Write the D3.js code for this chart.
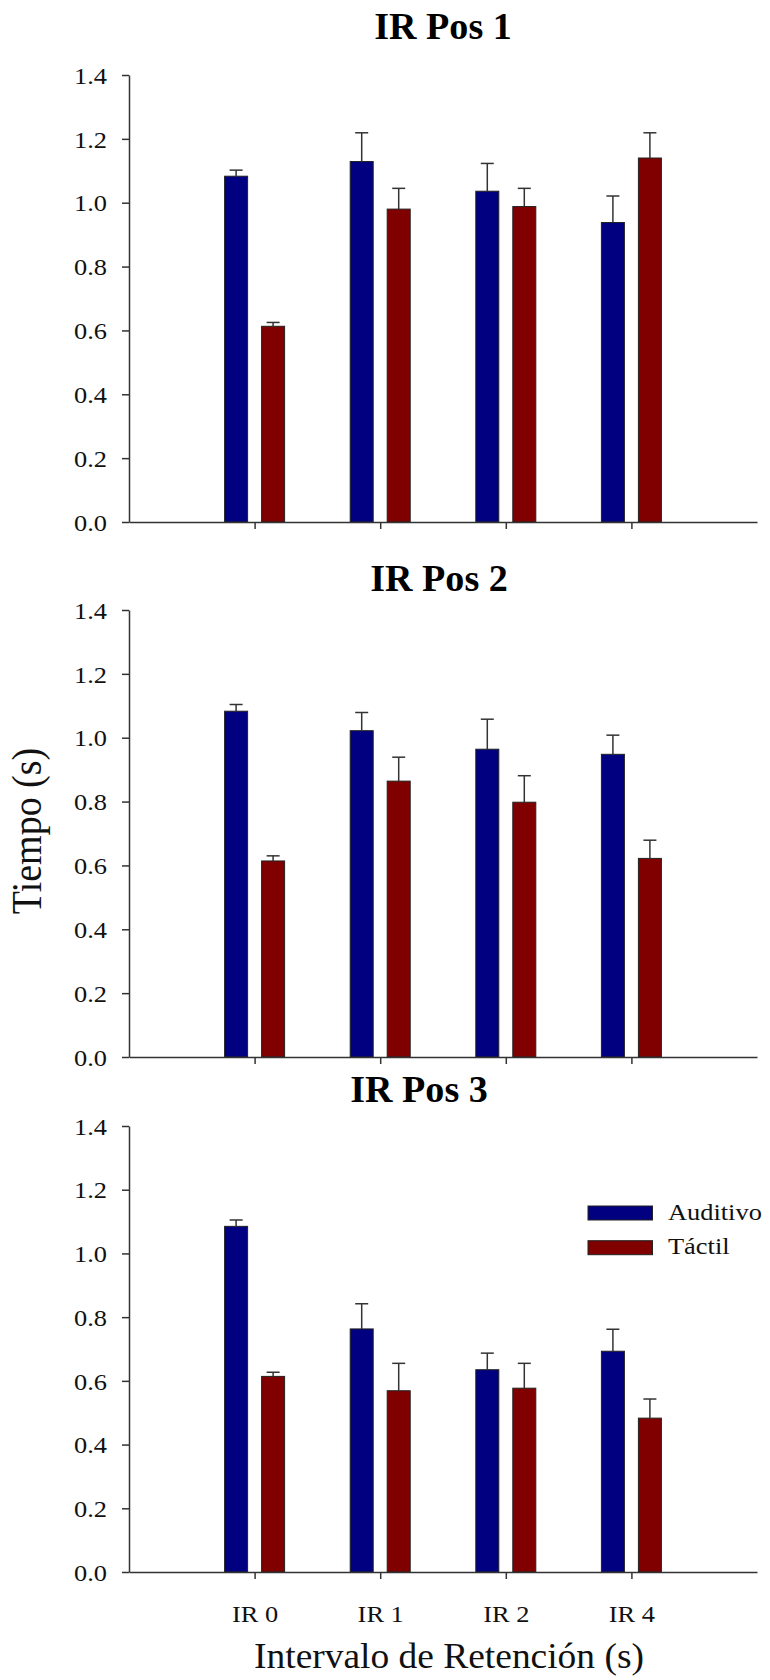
<!DOCTYPE html>
<html>
<head>
<meta charset="utf-8">
<script src="https://cdn.jsdelivr.net/npm/d3@7"></script>
<style>
  body { margin: 0; background: #fff; }
  svg { display: block; }
  svg text { font-family: "Liberation Serif", "Times New Roman", serif; }
</style>
</head>
<body>
<div id="chart"></div>
<script>
// categories and series
const categories = ["IR 0", "IR 1", "IR 2", "IR 4"];
const seriesNames = ["Auditivo", "Táctil"];
const colors = ["#000080", "#800000"];
const yTicks = [0, 0.2, 0.4, 0.6, 0.8, 1.0, 1.2, 1.4];
const titles = ["IR Pos 1", "IR Pos 2", "IR Pos 3"];

// means and standard errors
const pos1Auditivo = [1.083, 1.129, 1.036, 0.938];
const pos1AuditivoErr = [0.019, 0.090, 0.087, 0.083];
const pos1Tactil = [0.613, 0.980, 0.988, 1.140];
const pos1TactilErr = [0.012, 0.065, 0.057, 0.079];

const pos2Auditivo = [1.083, 1.022, 0.964, 0.948];
const pos2AuditivoErr = [0.021, 0.057, 0.094, 0.060];
const pos2Tactil = [0.614, 0.864, 0.798, 0.622];
const pos2TactilErr = [0.016, 0.075, 0.083, 0.057];

const pos3Auditivo = [1.085, 0.763, 0.635, 0.693];
const pos3AuditivoErr = [0.020, 0.079, 0.052, 0.069];
const pos3Tactil = [0.614, 0.569, 0.577, 0.483];
const pos3TactilErr = [0.013, 0.086, 0.078, 0.060];

const panels = [
  { title: titles[0], top: 75, bottom: 522, titleX: 443, titleY: 39,
    means: [pos1Auditivo, pos1Tactil], errs: [pos1AuditivoErr, pos1TactilErr] },
  { title: titles[1], top: 610, bottom: 1057, titleX: 439, titleY: 591,
    means: [pos2Auditivo, pos2Tactil], errs: [pos2AuditivoErr, pos2TactilErr] },
  { title: titles[2], top: 1126, bottom: 1572, titleX: 419, titleY: 1102,
    means: [pos3Auditivo, pos3Tactil], errs: [pos3AuditivoErr, pos3TactilErr] }
];

const W = 770, H = 1680;
const left = 129, right = 757;
const axisColor = "#333";
const stretch = 1.1; // the picture's text is slightly wide

const svg = d3.select("#chart").append("svg")
  .attr("width", W).attr("height", H);

// categories sit at 1..4 on a 0..5 axis
const x = d3.scaleLinear().domain([0, categories.length + 1]).range([left, right]);
const barOffset = [[-30, -7], [7, 30]];

panels.forEach((p, pi) => {
  const y = d3.scaleLinear().domain([0, 1.4]).range([p.bottom, p.top]);
  const g = svg.append("g");

  // title
  g.append("text")
    .attr("transform", `translate(${p.titleX},${p.titleY}) scale(1.03,1)`)
    .attr("text-anchor", "middle")
    .attr("font-size", 37).attr("font-weight", "bold")
    .text(p.title);

  // bars
  p.means.forEach((vals, si) => {
    g.selectAll(".bar" + si)
      .data(vals)
      .enter().append("rect")
      .attr("x", (d, i) => x(i + 1) + barOffset[si][0])
      .attr("width", barOffset[si][1] - barOffset[si][0])
      .attr("y", d => y(d))
      .attr("height", d => y(0) - y(d))
      .attr("fill", colors[si])
      .attr("stroke", "#222")
      .attr("stroke-width", 1);

    // error bars (upper only)
    const eb = g.selectAll(".err" + si)
      .data(vals.map((d, i) => ({ i, m: d, e: p.errs[si][i] })))
      .enter().append("g")
      .attr("stroke", axisColor).attr("stroke-width", 1.5);
    const cx = d => x(d.i + 1) + (barOffset[si][0] + barOffset[si][1]) / 2;
    eb.append("line")
      .attr("x1", cx).attr("x2", cx)
      .attr("y1", d => y(d.m)).attr("y2", d => y(d.m + d.e));
    eb.append("line")
      .attr("x1", d => cx(d) - 6.5).attr("x2", d => cx(d) + 6.5)
      .attr("y1", d => y(d.m + d.e)).attr("y2", d => y(d.m + d.e));
  });

  // y axis
  const yAxis = g.append("g")
    .attr("transform", `translate(${left},0)`)
    .call(d3.axisLeft(y).tickValues(yTicks).tickFormat(d3.format(".1f"))
      .tickSize(7).tickSizeOuter(0).tickPadding(15))
    .attr("font-family", null).attr("font-size", null);
  yAxis.select(".domain").attr("stroke", axisColor).attr("stroke-width", 1.5);
  yAxis.selectAll(".tick line").attr("stroke", axisColor).attr("stroke-width", 1.5);
  yAxis.selectAll(".tick text")
    .attr("font-size", 24).attr("fill", "#111")
    .attr("x", -22 / stretch).attr("dy", "0.34em")
    .attr("transform", `scale(${stretch},1)`);

  // x axis
  const xAxis = g.append("g")
    .attr("transform", `translate(0,${p.bottom})`)
    .call(d3.axisBottom(x).tickValues(d3.range(1, categories.length + 1))
      .tickFormat(d => pi === 2 ? categories[d - 1] : "")
      .tickSize(7).tickSizeOuter(0).tickPadding(26))
    .attr("font-family", null).attr("font-size", null);
  xAxis.select(".domain").attr("stroke", axisColor).attr("stroke-width", 1.5);
  xAxis.selectAll(".tick line").attr("stroke", axisColor).attr("stroke-width", 1.5);
  xAxis.selectAll(".tick text")
    .attr("font-size", 24).attr("fill", "#111")
    .attr("transform", `scale(${stretch},1)`);
});

// axis titles
svg.append("text")
  .attr("transform", `translate(${(left + right) / 2 + 6},1668) scale(1.07,1)`)
  .attr("text-anchor", "middle")
  .attr("font-size", 35).attr("fill", "#111")
  .text("Intervalo de Retención (s)");

svg.append("text")
  .attr("transform", "translate(41,831) rotate(-90) scale(1,1.1)")
  .attr("text-anchor", "middle")
  .attr("font-size", 38).attr("fill", "#111")
  .text("Tiempo (s)");

// legend inside panel 3
const legend = svg.append("g").attr("transform", "translate(588,1206)");
seriesNames.forEach((name, i) => {
  legend.append("rect")
    .attr("x", 0).attr("y", i * 34.7)
    .attr("width", 64.5).attr("height", 14)
    .attr("fill", colors[i]).attr("stroke", "#222").attr("stroke-width", 1);
  legend.append("text")
    .attr("transform", `translate(80,${i * 34.7 + 13.5}) scale(${stretch},1)`)
    .attr("font-size", 24).attr("fill", "#111")
    .text(name);
});
</script>
</body>
</html>
